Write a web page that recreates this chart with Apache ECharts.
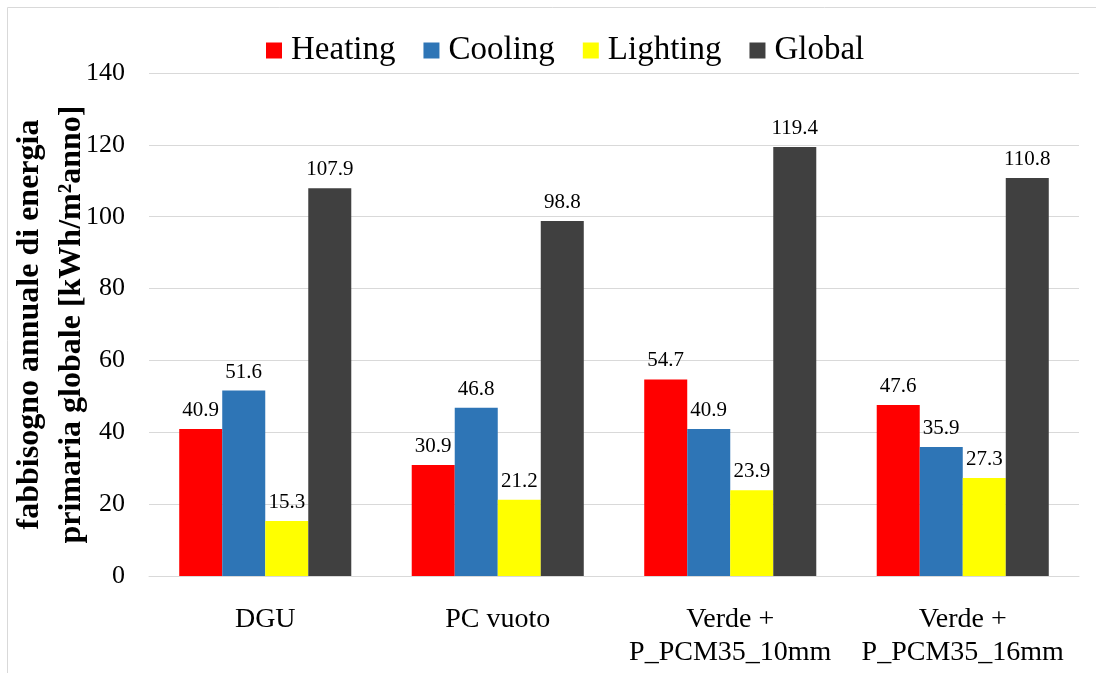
<!DOCTYPE html>
<html><head><meta charset="utf-8">
<script src="https://cdn.jsdelivr.net/npm/echarts@6/dist/echarts.min.js"></script>
<style>html,body{margin:0;padding:0;background:#fff}#c{width:1096px;height:673px}</style>
</head><body><div id="c"></div>
<script>
const categories = ['DGU', 'PC vuoto', 'Verde +\nP_PCM35_10mm', 'Verde +\nP_PCM35_16mm'];
const heating = [40.9, 30.9, 54.7, 47.6];
const cooling = [51.6, 46.8, 40.9, 35.9];
const lighting = [15.3, 21.2, 23.9, 27.3];
const globalVals = [107.9, 98.8, 119.4, 110.8];
const yTicks = {min: 0, max: 140, interval: 20};

const font = 'Liberation Serif, Times New Roman, serif';
const chart = echarts.init(document.getElementById('c'));
const mk = (name, data, color) => ({
  name, type: 'bar', data, barGap: '0%', barCategoryGap: '26%',
  itemStyle: {color},
  label: {show: true, position: 'top', distance: 8, color: '#000', fontFamily: font, fontSize: 21,
    formatter: p => p.value.toFixed(1)}
});
chart.setOption({
  animation: false,
  graphic: [{type: 'rect', shape: {x: 7.5, y: 7.5, width: 1200, height: 800},
    style: {fill: 'none', stroke: '#d9d9d9', lineWidth: 1}}],
  legend: {
    top: 29, left: 261, itemWidth: 16, itemHeight: 16, itemGap: 28,
    icon: 'rect',
    textStyle: {fontFamily: font, fontSize: 33, color: '#000', padding: [0, 0, 0, 4]},
    data: ['Heating', 'Cooling', 'Lighting', 'Global']
  },
  grid: {left: 149, right: 17, top: 73, bottom: 97, outerBoundsMode: 'none', containLabel: false},
  xAxis: {
    type: 'category', data: categories,
    axisLine: {lineStyle: {color: '#d9d9d9'}}, axisTick: {show: false},
    axisLabel: {interval: 0, fontFamily: font, fontSize: 28, color: '#000', margin: 27, lineHeight: 33}
  },
  yAxis: {
    type: 'value', min: yTicks.min, max: yTicks.max, interval: yTicks.interval,
    axisLine: {show: false}, axisTick: {show: false},
    splitLine: {lineStyle: {color: '#d9d9d9', width: 1}},
    axisLabel: {fontFamily: font, fontSize: 26, color: '#000', margin: 24},
    name: 'fabbisogno annuale di energia\nprimaria globale [kWh/m²anno]',
    nameLocation: 'middle', nameGap: 56, nameRotate: 90, nameMoveOverlap: false,
    nameTextStyle: {fontFamily: font, fontSize: 32, fontWeight: 'bold', color: '#000', lineHeight: 42}
  },
  series: [
    mk('Heating', heating, '#ff0000'),
    mk('Cooling', cooling, '#2e75b6'),
    mk('Lighting', lighting, '#ffff00'),
    mk('Global', globalVals, '#404040')
  ]
});
</script></body></html>
